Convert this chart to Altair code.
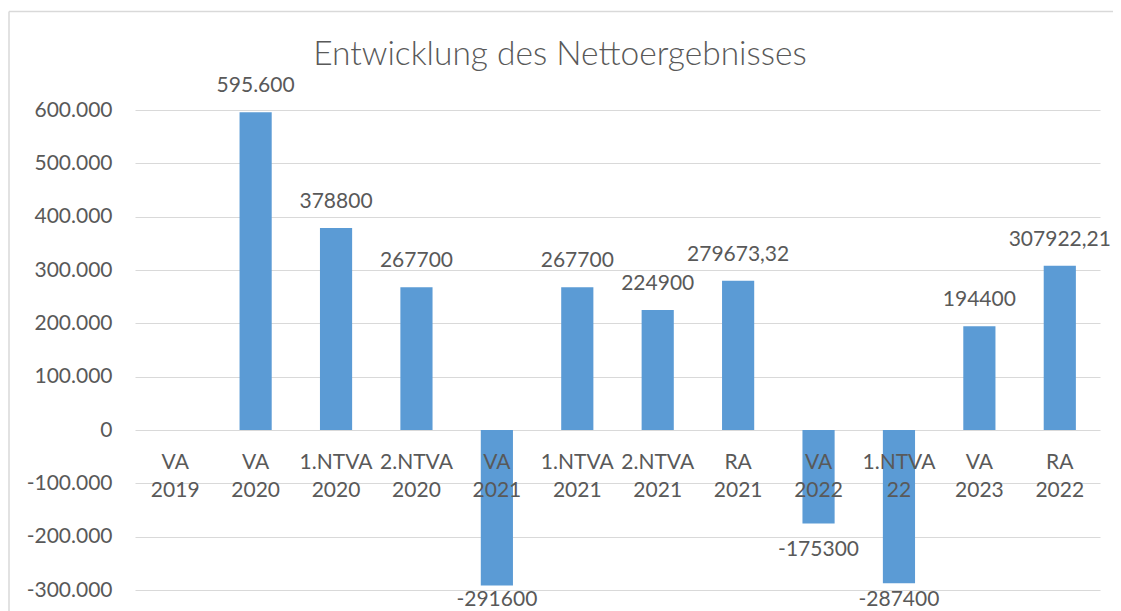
import altair as alt
import pandas as pd

categories = ["VA 2019", "VA 2020", "1.NTVA 2020", "2.NTVA 2020", "VA 2021", "1.NTVA 2021",
              "2.NTVA 2021", "RA 2021", "VA 2022", "1.NTVA 22", "VA 2023", "RA 2022"]
line1 = ["VA", "VA", "1.NTVA", "2.NTVA", "VA", "1.NTVA", "2.NTVA", "RA", "VA", "1.NTVA", "VA", "RA"]
line2 = ["2019", "2020", "2020", "2020", "2021", "2021", "2021", "2021", "2022", "22", "2023", "2022"]
values = [None, 595600, 378800, 267700, -291600, 267700, 224900, 279673.32, -175300, -287400, 194400, 307922.21]
value_labels = ["", "595.600", "378800", "267700", "-291600", "267700", "224900", "279673,32",
                "-175300", "-287400", "194400", "307922,21"]
title_text = "Entwicklung des Nettoergebnisses"

df = pd.DataFrame({
    "cat": categories, "l1": line1, "l2": line2, "v": values, "lab": value_labels,
})
df["sign"] = ["neg" if (v is not None and v == v and v < 0) else "pos" for v in df["v"]]

FONT = "Lato"
GREY = "#595959"
FRAME = "#d9d9d9"

x = alt.X("cat:N", sort=categories, axis=None,
          scale=alt.Scale(paddingInner=0.6, paddingOuter=0.3))
yscale = alt.Scale(domain=[-300000, 600000], nice=False)

bars = alt.Chart(df).mark_bar(color="#5B9BD5").encode(
    x=x,
    y=alt.Y("v:Q", scale=yscale, title=None,
            axis=alt.Axis(values=[-300000, -200000, -100000, 0, 100000, 200000, 300000, 400000, 500000, 600000],
                          domain=False, ticks=False, labelPadding=23,
                          labelFont=FONT, labelFontSize=21, labelColor=GREY,
                          gridColor=FRAME, gridWidth=1.2,
                          labelExpr="datum.value == 0 ? '0' : (datum.value < 0 ? '-' : '') + replace(format(abs(datum.value), ','), ',', '.')")),
    y2=alt.datum(0),
)

pos_labels = alt.Chart(df[df["sign"] == "pos"]).mark_text(
    font=FONT, fontSize=21, color=GREY, baseline="middle", dy=-26
).encode(x=x, y=alt.Y("v:Q", scale=yscale), text="lab:N")

# negative labels sit below the bar, but are kept inside the chart area (as in the original)
neg_labels = alt.Chart(df[df["sign"] == "neg"]).transform_calculate(
    ly="max(datum.v - 50625, -318000)"
).mark_text(
    font=FONT, fontSize=21, color=GREY, baseline="middle"
).encode(x=x, y=alt.Y("ly:Q", scale=yscale), text="lab:N")

cat1 = alt.Chart(df).mark_text(
    font=FONT, fontSize=21, color=GREY, baseline="alphabetic", dy=39
).encode(x=x, y=alt.datum(0, scale=yscale), text="l1:N")

cat2 = alt.Chart(df).mark_text(
    font=FONT, fontSize=21, color=GREY, baseline="alphabetic", dy=67
).encode(x=x, y=alt.datum(0, scale=yscale), text="l2:N")

one = pd.DataFrame({"a": [0]})
frame_top = alt.Chart(one).mark_rule(color=FRAME, strokeWidth=1.5).encode(
    x=alt.value(-126), x2=alt.value(1000), y=alt.value(-98.5))
frame_left = alt.Chart(one).mark_rule(color=FRAME, strokeWidth=1.5).encode(
    x=alt.value(-126), y=alt.value(-98.5), y2=alt.value(600))

title = alt.Chart(pd.DataFrame({"t": [title_text]})).mark_text(
    font=FONT, fontSize=33.5, fontWeight=300, color=GREY, baseline="alphabetic", align="center"
).encode(x=alt.value(425), y=alt.value(-45), text="t:N")

chart = alt.layer(frame_top, frame_left, bars, pos_labels, neg_labels, cat1, cat2, title).properties(
    width=965, height=480,
    autosize=alt.AutoSizeParams(type="none"),
    padding={"left": 127, "top": 102, "right": 13, "bottom": 21},
).configure_view(stroke=None)

chart.save("out.html", embed_options={"renderer": "svg", "actions": False})
